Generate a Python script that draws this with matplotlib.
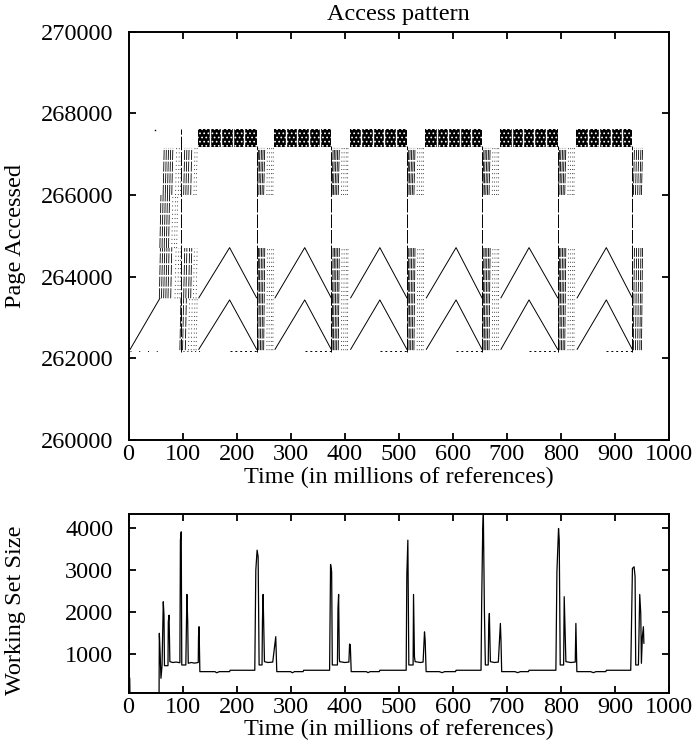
import matplotlib
matplotlib.use('Agg')
import matplotlib.pyplot as plt

plt.rcParams['font.family'] = ['Liberation Serif', 'DejaVu Serif']
plt.rcParams['font.size'] = 17.5
plt.rcParams['hatch.linewidth'] = 0.7

# ---- access pattern (top panel) ----
# dense blocks of accesses near the top of the range
block_start = [129, 269, 409, 549, 687, 828]
block_end = [237, 375, 515, 654, 794, 932]
block_gap = [22, 43, 64, 85]
block_lo, block_hi = 267180, 267610

# two triangle sweeps per cycle
tri_start = [130, 271, 411, 551, 689, 830]
tri_peak = [187, 326, 465, 606, 741, 884]
tri_end = [237, 375, 515, 654, 794, 932]
upper_tri = [263480, 264710]
lower_tri = [262220, 263430]

# initial ramp
ramp_x = [3, 58]
ramp_y = [262220, 263470]

# bursts of near-vertical strokes after each block
group_x = [237, 375, 515, 654, 794, 932]
dash_off = [1.5, 4, 7, 10, 13]
dot_off = [19, 23, 27, 30]
last_dash_off = [2, 6, 10, 14, 17]
upper_band = [266000, 267150]
mid_band = [264700, 266000]
lower_band = [262200, 264700]
low_a = [263470, 264700]
low_b = [262200, 263470]
long_line = [262150, 267200]

# first burst (before the first block)
first_upper_dash = [64, 68, 72, 76, 80, 102, 106, 110, 115]
first_upper_dot = [87, 92, 96, 121, 125]
first_mid_dash = [58, 62, 66, 70, 74]
first_mid_dot = [80, 85, 89]
first_low_dash = [57, 61, 65, 69, 73, 78, 102, 106, 111, 115]
first_low_dot = [86, 91, 95, 120, 125]
first_base_dash = [95, 100, 105]
first_base_dot = [111, 116, 121, 125]
first_long_x = 98
stray_x, stray_y = 49, 267600

baseline_y = 262170

# ---- working set size (bottom panel) ----
ws_time = [0, 1.2, 1.5, 2.2, 2.6, 56.5,
           57, 58.5, 60, 62, 64.3, 65.6, 66.5, 73, 73.6, 75, 76.5, 82, 88, 95,
           96, 97.5, 98.5, 106, 107, 108, 109.5, 110.5, 116, 122, 129, 129.5, 130.5, 132,
           160, 163, 168, 187, 188, 233.6,
           235.5, 237.9, 239.8, 241.6, 247, 247.8, 249, 250.2, 251.5, 258, 266.8, 271.2, 272.4, 274.3,
           300, 303, 307, 323, 324, 372,
           373.8, 375.8, 377, 386.5, 387.5, 388.7, 390, 390.5, 400, 407.7, 409, 410.3, 412,
           440, 443, 447, 464, 465, 513.7,
           514.9, 516.8, 518.6, 526.5, 527.3, 529, 530.2, 540, 545, 547.6, 548.8, 550.6,
           575, 580, 585, 605, 606, 652.2,
           653.4, 655.3, 656.5, 658.4, 660.2, 665.5, 666.4, 667.6, 669.5, 677, 684.2, 688, 689.1, 690.4,
           715, 720, 725, 740, 741, 790.7,
           792.6, 795.6, 796.9, 798.7, 805, 806.1, 807.3, 809.2, 818, 826.5, 827.7, 829.5,
           855, 860, 865, 883, 884, 929.2,
           932.3, 935.4, 937.2, 938.4, 943.4, 945.8, 947.7, 948.9, 950.7, 952.6, 953.5]
ws_size = [1250, 1250, 420, 420, 70, 70,
           1486, 1000, 414, 714, 2238, 1921, 714, 714, 1762, 1917, 810, 790, 800, 785,
           3707, 3905, 731, 731, 1564, 2413, 1762, 771, 790, 775, 790, 1405, 1643, 572,
           572, 545, 572, 572, 605, 605,
           2993, 3469, 3310, 731, 731, 1800, 2413, 1600, 810, 790, 800, 1286, 1405, 572,
           572, 545, 572, 572, 605, 605,
           3128, 2953, 731, 731, 2080, 2413, 900, 810, 790, 800, 1230, 1210, 572,
           572, 548, 572, 572, 605, 605,
           2873, 3707, 731, 731, 2413, 929, 810, 790, 800, 1520, 1325, 572,
           572, 548, 572, 572, 605, 605,
           2239, 3945, 4320, 2040, 731, 731, 1683, 1960, 810, 790, 800, 1722, 1325, 572,
           572, 548, 572, 572, 605, 605,
           2953, 3985, 3707, 731, 731, 2358, 1762, 810, 790, 800, 1722, 572,
           572, 548, 572, 572, 605, 605,
           3033, 3072, 2834, 731, 731, 2413, 1960, 771, 1405, 1643, 1250]

fig = plt.figure(figsize=(6.94, 7.54), dpi=100)
ax1 = fig.add_axes([0.1852, 0.4164, 0.7788, 0.5418])
ax2 = fig.add_axes([0.1852, 0.0813, 0.7788, 0.2370])

dash = (0, (12, 2))
dots = (0, (1, 4))
lw = 0.7

# blocks
for s, e in zip(block_start, block_end):
    ax1.fill_between([s, e], block_lo, block_hi, facecolor='black',
                     edgecolor='white', hatch='....', lw=0)
    for g in block_gap:
        ax1.plot([s + g, s + g], [block_lo, block_hi], color='white', lw=1.0)

# triangles
for s, p, e in zip(tri_start, tri_peak, tri_end):
    ax1.plot([s, p, e], [upper_tri[0], upper_tri[1], upper_tri[0]], color='black', lw=lw)
    ax1.plot([s, p, e], [lower_tri[0], lower_tri[1], lower_tri[0]], color='black', lw=lw)
ax1.plot(ramp_x, ramp_y, color='black', lw=lw)

# bursts after each block
for i, gx in enumerate(group_x):
    ax1.plot([gx, gx], long_line, color='black', lw=lw, ls=(0, (14, 2)))
    last = i == len(group_x) - 1
    for o in (last_dash_off if last else dash_off):
        for band in (upper_band, lower_band):
            ax1.plot([gx + o, gx + o + 2], band, color='black', lw=0.6, ls=dash)
    if not last:
        for o in dot_off:
            for band in (upper_band, lower_band):
                ax1.plot([gx + o, gx + o + 1], band, color='black', lw=0.6, ls=dots)

# first burst
ax1.plot([first_long_x, first_long_x], [262150, block_hi], color='black', lw=lw, ls=(0, (14, 2)))
for xs, band, st in [(first_upper_dash, upper_band, dash), (first_upper_dot, upper_band, dots),
                     (first_mid_dash, mid_band, dash), (first_mid_dot, mid_band, dots),
                     (first_low_dash, low_a, dash), (first_low_dot, low_a, dots),
                     (first_base_dash, low_b, dash), (first_base_dot, low_b, dots)]:
    for x in xs:
        ax1.plot([x, x + 2], band, color='black', lw=0.6, ls=st)
ax1.plot(stray_x, stray_y, 's', color='black', ms=1.0, mew=0)

# sparse points along the bottom
ax1.plot([3, 60], [baseline_y, baseline_y], color='black', lw=lw, ls=(0, (1, 8)))
ax1.plot([100, 132], [baseline_y, baseline_y], color='black', lw=lw, ls=(0, (1, 3)))
for p, e in zip(tri_peak, tri_end):
    ax1.plot([p, e], [baseline_y, baseline_y], color='black', lw=lw, ls=(0, (2, 3)))

ax1.set_ylim(260000, 270000)
ax1.set_yticks(range(260000, 270001, 2000))
ax1.ticklabel_format(axis='y', useOffset=False, style='plain')
ax1.set_title('Access pattern', pad=8, fontsize=17.5)
ax1.set_ylabel('Page Accessed')
ax1.yaxis.set_label_coords(-0.19, 0.5)

ax2.plot(ws_time, ws_size, color='black', lw=0.9)
ax2.set_ylim(70, 4330)
ax2.set_yticks([1000, 2000, 3000, 4000])
ax2.set_ylabel('Working Set Size')
ax2.yaxis.set_label_coords(-0.19, 0.463)

for ax in (ax1, ax2):
    ax.set_xlim(0, 1000)
    ax.set_xticks(range(0, 1001, 100))
    ax.set_xlabel('Time (in millions of references)', labelpad=1)
    ax.tick_params(direction='in', top=True, right=True, length=5, width=1.3)
    ax.tick_params(axis='y', pad=11)
    ax.tick_params(axis='x', pad=3)
    for sp in ax.spines.values():
        sp.set_linewidth(1.4)

fig.savefig('out.png', dpi=100)
